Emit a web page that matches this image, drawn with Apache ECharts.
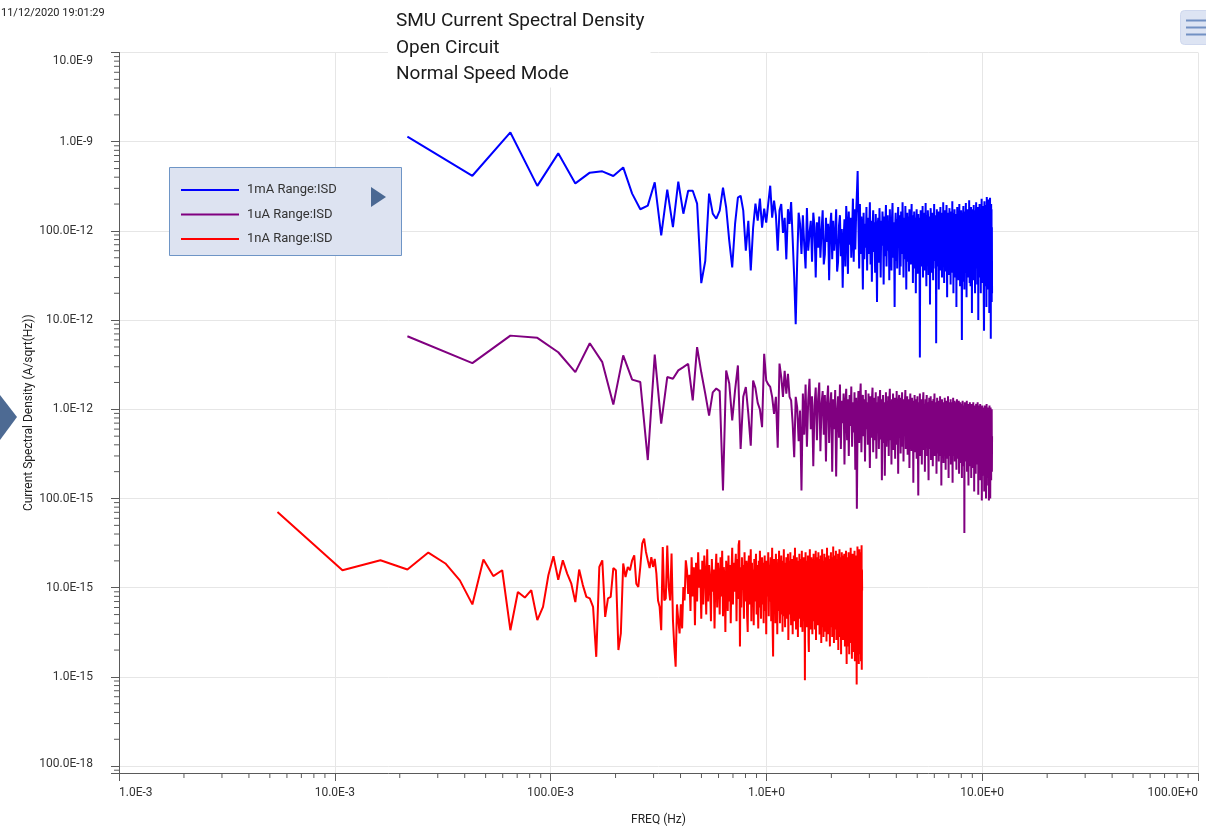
<!DOCTYPE html>
<html>
<head>
<meta charset="utf-8">
<title>SMU Current Spectral Density</title>
<script src="https://cdn.jsdelivr.net/npm/echarts@6.0.0/dist/echarts.min.js"></script>
<style>
html, body { margin: 0; padding: 0; background: #fff; }
#chart { width: 1206px; height: 828px; }
</style>
</head>
<body>
<div id="chart"></div>
<script>
// frequency step of each FFT (Hz); bin k sits at k * df
var blueDf = 0.0217;
var purpleDf = 0.0217;
var redDf = 0.005425;

// 1mA range, pA/sqrt(Hz)
var blueVals = [
  1140, 415, 1270, 320, 740, 341, 450, 465, 413, 515,
  262, 175, 192, 351, 89, 290, 110, 356, 156, 282,
  282, 202, 26, 46, 262, 156, 137, 169, 305, 183,
  78, 39, 121, 236, 248, 169, 60, 130, 36, 109,
  202, 130, 230, 109, 178, 124, 202, 321, 141, 219,
  150, 60, 170, 200, 95, 140, 48, 175, 120, 210,
  80, 30, 9, 45, 160,
  120, 55, 150, 70, 38, 180, 60, 95, 130, 45, 160, 110, 30, 125, 65, 145, 50, 100, 170, 42,
  55, 140, 75, 120, 28, 110, 160, 48, 130, 60, 90, 175, 35, 45, 115, 150, 52, 105, 23, 80,
  135, 40, 190, 110, 33, 165, 70, 140, 50, 95, 230, 45, 175, 62, 150, 260, 470, 130, 38, 200,
  55, 145, 85, 22, 160, 48, 120, 65, 185, 36, 140, 55, 100, 210, 42, 130, 27, 105, 170, 58,
  125, 34, 155, 75, 16, 115, 140, 44, 180, 90, 30, 130, 68, 165, 110, 25, 145, 52, 120, 195,
  40, 105, 150, 60, 130, 28, 175, 80, 115, 36, 140, 205, 50, 125, 85, 14, 110, 160, 46, 135,
  38, 120, 185, 70, 150, 32, 110, 40, 165, 95, 55, 210, 105, 30, 140, 80, 48, 190, 100, 22,
  125, 160, 45, 110, 145, 35, 175, 70, 135, 42, 115, 200, 60, 150, 26, 120, 80, 165, 38, 140,
  75, 20, 130, 175, 50, 115, 33, 155, 85, 140, 62, 3.8, 85, 170, 125, 40, 145, 70, 190, 30,
  120, 160, 55, 135, 36, 110, 205, 65, 24, 150, 95, 44, 170, 130, 32, 145, 75, 125, 15, 110,
  180, 50, 140, 34, 115, 160, 68, 28, 135, 90, 200, 46, 150, 105, 38, 130, 5.5, 70, 175, 48,
  140, 40, 120, 165, 22, 105, 150, 55, 130, 185, 36, 115, 145, 62, 30, 160, 95, 42, 210, 75,
  135, 26, 120, 170, 52, 150, 85, 35, 140, 195, 70, 18, 130, 160, 44, 115, 145, 32, 125, 180,
  58, 140, 90, 25, 165, 120, 40, 150, 72, 215, 34, 130, 160, 20, 115, 145, 48, 175, 85, 30,
  135, 155, 56, 120, 14, 140, 80, 185, 38, 130, 165, 64, 28, 145, 100, 200, 46, 155, 24, 115,
  140, 50, 170, 90, 36, 6, 130, 160, 60, 27, 150, 190, 44, 135, 78, 22, 165, 66, 140, 34,
  120, 205, 48, 150, 18, 130, 75, 175, 40, 145, 95, 30, 160, 110, 42, 220, 85, 26, 140, 60,
  165, 24, 130, 185, 45, 145, 80, 12, 150, 62, 175, 35, 135, 100, 28, 195, 70, 155, 40, 140,
  90, 20, 170, 110, 38, 150, 210, 42, 135, 70, 160, 25, 120, 185, 55, 145, 10, 130, 165, 36,
  140, 65, 200, 30, 155, 95, 44, 175, 20, 135, 160, 58, 230, 34, 145, 85, 26, 190, 70, 150,
  48, 170, 105, 16, 7.6, 140, 215, 52, 160, 32, 125, 195, 24, 150, 80, 180, 14, 135, 240, 45,
  155, 90, 28, 205, 140, 22, 170, 60, 225, 38, 145, 12, 185, 100, 40, 235, 18, 160, 75, 6.2,
  150, 200, 50, 175, 16, 110, 20
];

// 1uA range, fA/sqrt(Hz)
var purpleVals = [
  6600, 3290, 6700, 6330, 4360, 2610, 5500, 3380, 1130, 4020,
  2150, 2020, 270, 4100, 690, 2300, 2200, 2730, 2970, 3240,
  1260, 4980, 2600, 1500, 850, 1550, 1710, 1600, 123, 2730,
  1950, 750, 1650, 3100, 360, 1380, 1780, 890, 390, 2100,
  1730, 1180, 1000, 630, 4200, 2100, 1900, 1780, 1380, 890,
  1380, 370, 3260, 2300, 1380, 2700, 1500, 2500, 1380, 1260,
  690, 290, 1380, 1050, 440, 970, 123,
  1500, 520, 1900, 380, 1250, 2200, 600, 1400, 230, 1100, 1750, 450, 1300, 2000, 340, 1150, 1600, 520, 1450, 260,
  1200, 1850, 420, 1050, 1550, 200, 1300, 600, 1650, 177, 900, 1400, 480, 1900, 360, 1250, 700, 1500, 240, 1150,
  1700, 450, 1300, 300, 1450, 650, 1800, 380, 1200, 550, 1550, 210, 1350, 77, 800, 1600, 420, 1250, 1950, 330,
  1100, 1450, 500, 1300, 260, 1650, 600, 1200, 400, 1500, 700, 220, 1400, 480, 1250, 1750, 330, 1050, 1350, 450,
  1550, 280, 1200, 550, 1400, 360, 1100, 1650, 460, 1300, 160, 900, 1450, 420, 1200, 180, 800, 1550, 380, 1250,
  520, 1400, 300, 1150, 1700, 450, 1050, 240, 1300, 580, 1500, 350, 1100, 1350, 280, 1200, 500, 1600, 400, 1050,
  190, 1250, 1450, 480, 1100, 320, 1350, 650, 1550, 380, 1150, 260, 1300, 520, 1200, 1650, 360, 1050, 450, 1400,
  310, 1150, 550, 1300, 220, 1050, 1500, 420, 1200, 340, 1350, 560, 1100, 150, 1250, 600, 1450, 330, 1150, 470,
  1300, 280, 1050, 1400, 400, 108, 950, 1200, 460, 1500, 300, 1100, 520, 1300, 240, 1050, 430, 1250, 1550, 350,
  1000, 1150, 200, 900, 1300, 380, 1100, 1450, 300, 950, 1200, 420, 160, 1050, 1350, 360, 1150, 480, 1400, 270,
  1000, 1250, 400, 1100, 230, 950, 1300, 350, 1050, 1500, 300, 900, 1200, 380, 1100, 190, 950, 1350, 320, 1050,
  450, 1250, 260, 1000, 1150, 380, 1400, 300, 900, 1100, 140, 1000, 1300, 350, 1050, 440, 1200, 250, 950, 1150,
  320, 1350, 420, 1000, 210, 1100, 480, 1250, 280, 950, 1150, 360, 1400, 450, 170, 1050, 500, 1200, 300, 1000,
  400, 1300, 240, 950, 1100, 340, 1200, 460, 150, 1000, 1350, 300, 900, 1050, 380, 1250, 260, 950, 1100, 340,
  1200, 440, 210, 1000, 1300, 320, 900, 1150, 280, 1050, 400, 1250, 190, 950, 1100, 300, 850, 1200, 250, 1000,
  380, 1150, 480, 170, 1050, 320, 1250, 420, 950, 230, 1100, 350, 1000, 41, 850, 1200, 300, 950, 1100, 260,
  850, 1050, 350, 1250, 200, 900, 1000, 320, 1150, 420, 140, 950, 1100, 280, 1000, 380, 1200, 230, 900, 340,
  1050, 440, 170, 1000, 1150, 300, 900, 380, 1100, 220, 950, 1200, 320, 850, 1000, 120, 900, 1100, 280, 800,
  1050, 350, 190, 950, 1150, 300, 850, 1000, 240, 900, 380, 1200, 260, 950, 110, 850, 1050, 320, 1100, 210,
  800, 950, 300, 1150, 160, 900, 350, 1050, 250, 850, 1000, 95, 380, 1100, 280, 900, 180, 1000, 320, 850,
  230, 1050, 380, 120, 950, 300, 1100, 420, 200, 900, 1000, 280, 100, 850, 350, 1150, 170, 950, 300, 800,
  1050, 230, 380, 140, 900, 1000, 260, 95, 850, 330, 1100, 190, 800, 950, 100, 350, 1050, 280, 900, 160,
  850, 300, 1000, 200, 500
];

// 1nA range, fA/sqrt(Hz)
var redVals = [
  70.6, 15.7, 20.3, 16.0, 24.8, 18.7, 12.1, 6.5, 20.7, 13.5,
  15.7, 3.34, 8.97, 7.76, 9.38, 4.33, 6.1, 13.8, 22.5, 12.3,
  20.3, 14.4, 11.1, 6.9, 16.0, 10.7, 7.9, 7.6, 6.1, 1.68,
  17.1, 20.3, 4.7, 7.6, 7.9, 16.6, 15.7, 2.0, 3.07, 18.7,
  13.2, 17.1, 15.7, 20.3, 23.1, 11.1, 10.2, 17.1, 31.3, 35.6,
  25.2, 20.3, 16.6, 22.0, 17.1, 21.0, 14.4, 7.2, 6.1, 3.34,
  28.6, 7.2, 7.6, 29.7, 10.2, 7.2, 24.2, 4.33, 2.17, 1.30,
  6.5, 4.33, 3.07, 6.5, 3.5, 10.2, 7.2, 20.3, 15.7, 8.5,
  14, 5.5, 22, 8, 17, 3.8, 19, 7, 25, 10, 16, 4.5, 20, 6.5, 23, 15, 5, 27, 7, 18,
  12, 4.2, 21, 9, 16, 3.5, 14, 24, 6, 19, 13, 5, 22, 8, 26, 4.8, 17, 12, 3.2, 20,
  14, 5.5, 23, 7, 18, 4, 15, 28, 6.5, 19, 9, 16, 24, 4.2, 21, 7.5, 30, 34, 2.2, 17,
  6, 22, 9.5, 18, 4.5, 25, 7, 15, 20, 5, 3.2, 17, 23, 6.5, 14, 27, 4.2, 19, 8, 16,
  3.8, 21, 7, 15, 24, 5, 18, 9, 3.5, 20, 6, 26, 10, 4.5, 16, 22, 6.5, 19, 4, 15,
  23, 5.5, 17, 3, 20, 8, 13, 25, 4.8, 18, 7, 16, 22, 4.2, 12, 28, 3.6, 1.7, 15, 21,
  6, 17, 4, 24, 9, 19, 3, 15, 21, 5.5, 26, 8, 4, 18, 14, 23, 5, 16, 3.2, 20,
  7, 27, 4.8, 15, 3.6, 19, 9, 22, 4.5, 17, 6.5, 24, 2.6, 14, 20, 5, 16, 25, 7.5, 3.8,
  18, 6, 21, 3, 15, 5.5, 23, 10, 4.2, 28, 7, 19, 3.4, 14, 22, 6, 16, 2.8, 20, 8,
  4.5, 24, 9, 5.5, 18, 3.6, 21, 7, 26, 4.8, 3.2, 17, 8, 22, 4.2, 19, 6, 0.92, 16, 25,
  5, 18, 3.6, 20, 8, 4.5, 23, 10, 2.5, 1.9, 17, 6, 27, 4.8, 19, 3.4, 14, 22, 5.5, 16,
  3, 21, 7, 4.2, 24, 9, 5, 18, 3.4, 20, 6.5, 26, 2.6, 16, 4.8, 22, 8, 3.8, 19, 6,
  25, 4.5, 17, 7, 3, 21, 8, 4.2, 23, 10, 2.4, 18, 5.5, 27, 7, 3.6, 20, 9, 2.8, 19,
  6, 24, 4, 16, 8, 3.2, 22, 5, 18, 2.5, 15, 28, 4.5, 20, 7, 3, 17, 23, 4.2, 14,
  19, 5, 2.2, 21, 8, 3.6, 25, 6, 17, 4, 22, 2.8, 14, 19, 6, 29, 3.8, 16, 2.4, 20,
  5.5, 18, 3.4, 23, 7, 4.2, 26, 8, 2.6, 19, 5, 21, 3.6, 17, 6.5, 24, 2, 16, 4.8, 20,
  3.8, 27, 7, 2.8, 18, 5, 22, 8, 1.8, 19, 6, 25, 3.6, 16, 4.5, 23, 6.5, 2.6, 20, 7,
  17, 3.2, 24, 5, 15, 2.2, 21, 6, 19, 3.6, 26, 5.5, 2.8, 1.4, 16, 22, 4.2, 18, 2.2, 14,
  20, 4.5, 25, 3.2, 15, 1.8, 19, 6, 23, 2.8, 17, 4.2, 28, 5, 2.4, 18, 6.5, 21, 1.6, 16,
  3.6, 24, 5.5, 2.4, 19, 7, 1.9, 22, 4.5, 17, 2.8, 26, 5, 1.5, 20, 4, 16, 2.2, 23, 5.5,
  18, 2.8, 0.82, 14, 21, 3.6, 29, 1.8, 15, 19, 2.5, 24, 4.5, 1.4, 17, 6, 27, 2, 20, 3.4,
  22, 5, 1.8, 18, 7, 1.5, 25, 4, 30, 1.2, 16, 9.3
];

var seriesNames = ['1mA Range:ISD', '1uA Range:ISD', '1nA Range:ISD'];
var seriesColors = ['#0000ff', '#800080', '#ff0000'];

var xMin = 1e-3, xMax = 1e2;
var yMin = Math.pow(10, -16.077), yMax = 1e-8;
var font = 'Roboto, "Liberation Sans", sans-serif';

function toPairs(vals, df, unit) {
  return vals.map(function (v, i) {
    return [(i + 1) * df, v * unit];
  });
}

// 1.0E-9, 10.0E-3, 100.0E+0 ...
function engLabel(v) {
  var lg = Math.log10(v);
  var p = Math.round(lg);
  if (Math.abs(lg - p) > 1e-6) return '';
  var e3 = Math.floor(p / 3) * 3;
  var m = Math.pow(10, p - e3);
  return m.toFixed(1) + 'E' + (e3 >= 0 ? '+' : '') + e3;
}

// top and bottom y labels sit a little inside the plot
function yLabel(v) {
  var s = engLabel(v);
  if (!s) return '';
  var p = Math.round(Math.log10(v));
  if (p === -8) return '{top|' + s + '}';
  if (p === -16) return '{bot|' + s + '}';
  return s;
}

// minor tick values 2..9 of every decade
var minorX = [], minorY = [];
for (var n = -3; n < 2; n++) {
  for (var m = 2; m < 10; m++) minorX.push([m * Math.pow(10, n), yMin]);
}
for (var n2 = -17; n2 < -8; n2++) {
  for (var m2 = 2; m2 < 10; m2++) {
    var yv = m2 * Math.pow(10, n2);
    if (yv > yMin && yv < yMax) minorY.push([xMin, yv]);
  }
}

var chart = echarts.init(document.getElementById('chart'));

var option = {
  animation: false,
  textStyle: { fontFamily: font },
  title: {
    text: 'SMU Current Spectral Density\nOpen Circuit\nNormal Speed Mode',
    left: 388,
    top: 0,
    padding: [8, 6, 0, 8],
    backgroundColor: '#fff',
    textStyle: { fontSize: 19, fontWeight: 'normal', color: '#1a1a1a', lineHeight: 26.5, fontFamily: font }
  },
  legend: {
    data: seriesNames,
    orient: 'vertical',
    left: 181,
    top: 182.5,
    padding: 0,
    icon: 'rect',
    itemWidth: 58,
    itemHeight: 2,
    itemGap: 9.5,
    textStyle: { fontSize: 13, color: '#333', lineHeight: 15, padding: [0, 0, 0, 3], fontFamily: font }
  },
  grid: { left: 119, right: 8, top: 52.5, bottom: 55, outerBoundsMode: 'none' },
  xAxis: {
    type: 'log',
    logBase: 10,
    min: xMin,
    max: xMax,
    name: 'FREQ (Hz)',
    nameLocation: 'middle',
    nameGap: 41,
    nameMoveOverlap: false,
    nameTextStyle: { fontSize: 12, color: '#222' },
    axisLine: { lineStyle: { color: '#5a5a5a' } },
    axisTick: { length: 8, lineStyle: { color: '#5a5a5a' } },
    axisLabel: {
      fontSize: 12, color: '#333', margin: 14,
      alignMinLabel: 'left', alignMaxLabel: 'right',
      formatter: engLabel
    },
    splitLine: { show: true, lineStyle: { color: '#e6e6e6' } }
  },
  yAxis: {
    type: 'log',
    logBase: 10,
    min: yMin,
    max: yMax,
    name: 'Current Spectral Density (A/sqrt(Hz))',
    nameLocation: 'middle',
    nameGap: 84,
    nameMoveOverlap: false,
    nameTextStyle: { fontSize: 12, color: '#222' },
    axisLine: { show: true, lineStyle: { color: '#5a5a5a' } },
    axisTick: { show: true, length: 8, lineStyle: { color: '#5a5a5a' } },
    axisLabel: {
      fontSize: 12, color: '#333', margin: 26,
      formatter: yLabel,
      rich: {
        top: { fontSize: 12, color: '#333', padding: [16, 0, 0, 0] },
        bot: { fontSize: 12, color: '#333', padding: [0, 0, 5, 0] }
      }
    },
    splitLine: { show: true, lineStyle: { color: '#e6e6e6' } }
  },
  graphic: [
    { type: 'text', x: 1, y: 8, style: { text: '11/12/2020 19:01:29', fontSize: 11, fontFamily: font, fill: '#222' } },
    { type: 'rect', z: 3, shape: { x: 169.5, y: 167.5, width: 232, height: 88 },
      style: { fill: '#dde3f1', stroke: '#6e95c6', lineWidth: 1 } },
    { type: 'polygon', z: 4, shape: { points: [[371, 187], [371, 207], [386, 197]] }, style: { fill: '#4a6893' } },
    { type: 'polygon', z: 4, shape: { points: [[0, 395], [17, 417], [0, 440]] }, style: { fill: '#4d6a93' } },
    { type: 'rect', z: 4, shape: { x: 1180.5, y: 10.5, width: 40, height: 34, r: 4 },
      style: { fill: '#dde4f3', stroke: '#cfd8ee', lineWidth: 1 } },
    { type: 'line', z: 5, shape: { x1: 1186, y1: 20.5, x2: 1206, y2: 20.5 }, style: { stroke: '#7291c3', lineWidth: 2 } },
    { type: 'line', z: 5, shape: { x1: 1186, y1: 27.5, x2: 1206, y2: 27.5 }, style: { stroke: '#7291c3', lineWidth: 2 } },
    { type: 'line', z: 5, shape: { x1: 1186, y1: 34.5, x2: 1206, y2: 34.5 }, style: { stroke: '#7291c3', lineWidth: 2 } }
  ],
  series: [
    {
      name: seriesNames[0], type: 'line', symbol: 'none', showSymbol: false,
      itemStyle: { color: seriesColors[0] },
      lineStyle: { color: seriesColors[0], width: 2 },
      data: toPairs(blueVals, blueDf, 1e-12)
    },
    {
      name: seriesNames[1], type: 'line', symbol: 'none', showSymbol: false,
      itemStyle: { color: seriesColors[1] },
      lineStyle: { color: seriesColors[1], width: 2 },
      data: toPairs(purpleVals, purpleDf, 1e-15)
    },
    {
      name: seriesNames[2], type: 'line', symbol: 'none', showSymbol: false,
      itemStyle: { color: seriesColors[2] },
      lineStyle: { color: seriesColors[2], width: 2 },
      data: toPairs(redVals, redDf, 1e-15)
    },
    {
      // minor ticks under the x axis
      type: 'custom', silent: true, clip: false,
      renderItem: function (params, api) {
        var p = api.coord([api.value(0), api.value(1)]);
        return { type: 'line', shape: { x1: p[0], y1: p[1], x2: p[0], y2: p[1] + 5 },
          style: { stroke: '#5a5a5a', lineWidth: 1 } };
      },
      data: minorX
    },
    {
      // minor ticks left of the y axis
      type: 'custom', silent: true, clip: false,
      renderItem: function (params, api) {
        var p = api.coord([api.value(0), api.value(1)]);
        return { type: 'line', shape: { x1: p[0] - 5, y1: p[1], x2: p[0], y2: p[1] },
          style: { stroke: '#5a5a5a', lineWidth: 1 } };
      },
      data: minorY
    }
  ]
};

chart.setOption(option);
window.addEventListener('resize', function () {
  chart.resize();
});
</script>
</body>
</html>
